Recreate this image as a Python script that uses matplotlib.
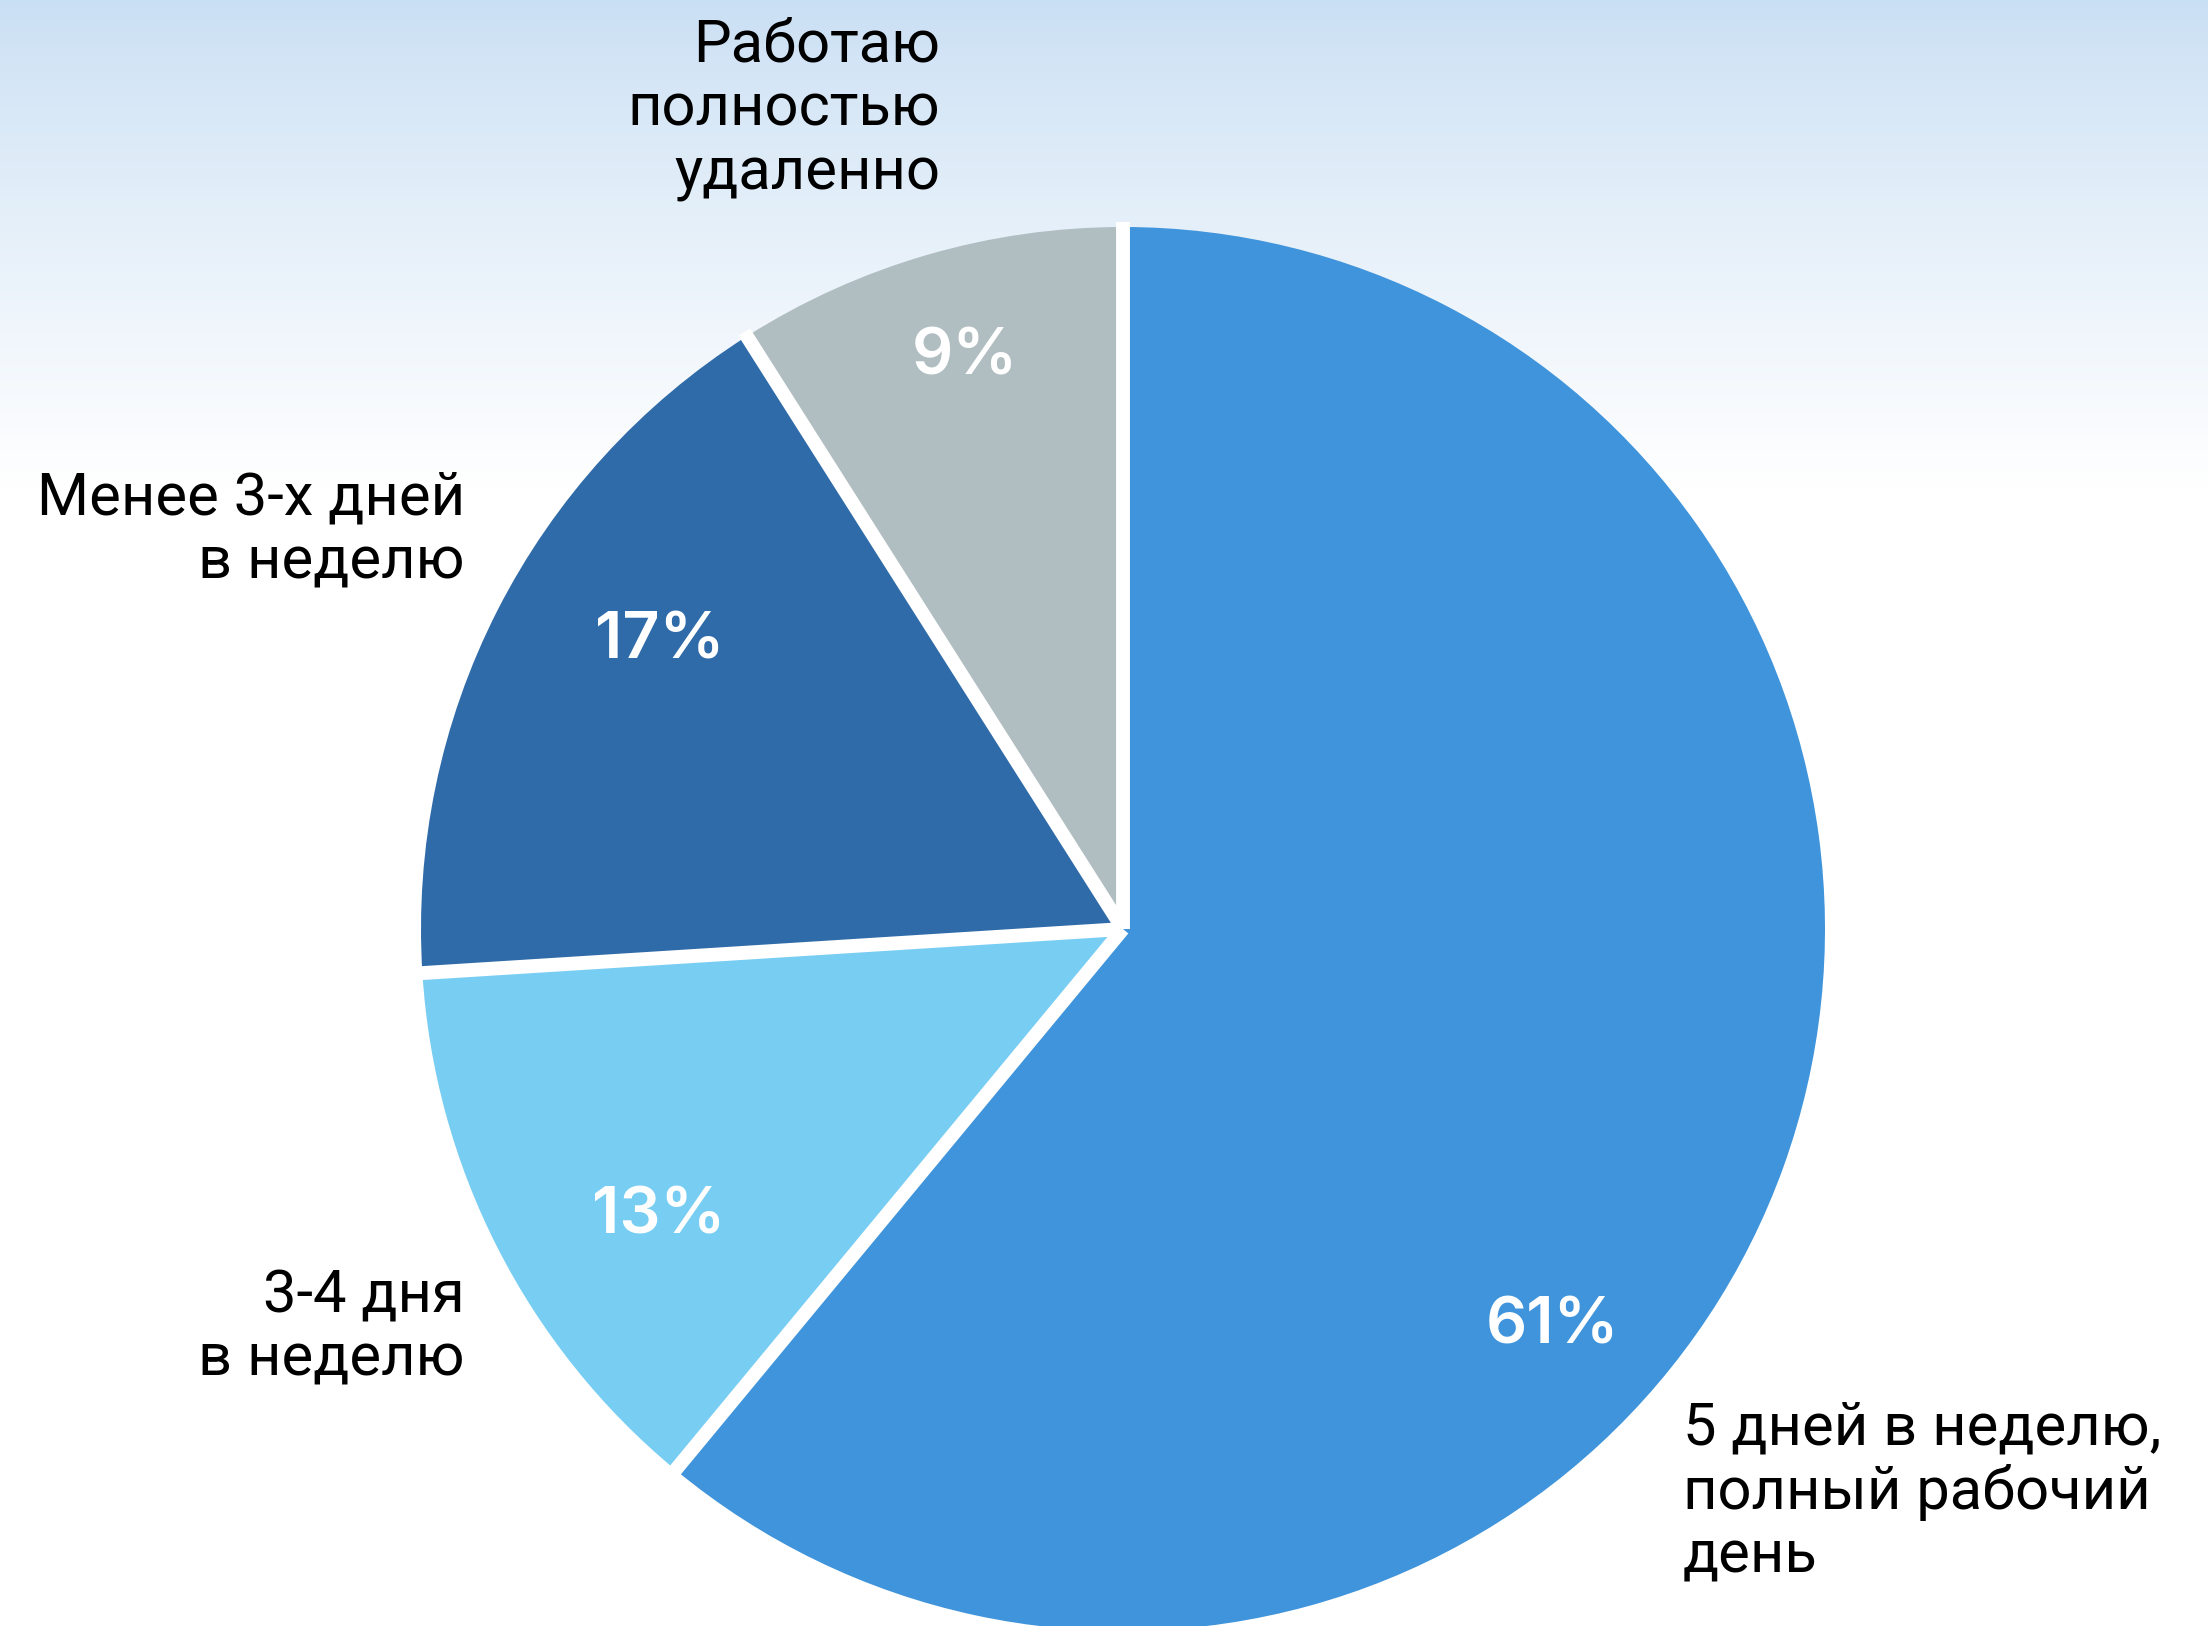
import numpy as np
import matplotlib
matplotlib.use("Agg")
import matplotlib.pyplot as plt

# данные
categories = ["5 дней в неделю,\nполный рабочий\nдень",
              "3-4 дня\nв неделю",
              "Менее 3-х дней\nв неделю",
              "Работаю\nполностью\nудаленно"]
shares = [61, 13, 17, 9]
colors = ["#3F94DB", "#78CDF3", "#2F6BA8", "#B0BDC1"]

W, H = 2208, 1626
fig = plt.figure(figsize=(W / 100, H / 100), dpi=100)
ax = fig.add_axes([0, 0, 1, 1])

# фон - градиент сверху вниз
grad = np.linspace(0, 1, 400)[:, None]
top = np.array([0.79, 0.875, 0.955])
a = np.clip(grad / 0.30, 0, 1) ** 0.85
img = top[None, None, :] * (1 - a[..., None]) + np.ones(3)[None, None, :] * a[..., None]
img = np.repeat(img, 2, axis=1)
ax.imshow(img, extent=[0, W, 0, H], origin="upper", aspect="auto", zorder=0)

cx, cy, R = 1123, 697, 702
wedges, _ = ax.pie(shares, colors=colors, startangle=90, counterclock=False,
                   center=(cx, cy), radius=R, frame=True,
                   wedgeprops=dict(linewidth=0, zorder=2))

# белые разделители только по радиусам
for w in wedges:
    t = np.deg2rad(w.theta1)
    ax.plot([cx, cx + (R + 5) * np.cos(t)], [cy, cy + (R + 5) * np.sin(t)],
            color="white", lw=10, solid_capstyle="butt", zorder=2.5)

ax.set_xlim(0, W)
ax.set_ylim(0, H)
ax.axis("off")

# подписи процентов: (угол, доля радиуса)
pct_pos = [(-42.5, 0.83), (-148.6, 0.775), (147.8, 0.78), (105.4, 0.85)]
for v, (ang, rr) in zip(shares, pct_pos):
    t = np.deg2rad(ang)
    ax.text(cx + rr * R * np.cos(t), cy + rr * R * np.sin(t) - 4, f"{v}%",
            color="white", fontsize=46.5, fontfamily="Inter", fontweight="semibold",
            ha="center", va="center", zorder=3)

# подписи категорий (x, y от верхнего края)
lab_pos = [(1683, 1400, "left"), (465, 1267, "right"), (465, 470, "right"), (940, 17, "right")]
for txt, (x, yy, ha) in zip(categories, lab_pos):
    ax.text(x, H - yy, txt, fontsize=43, fontfamily="Roboto", color="black",
            ha=ha, va="top", linespacing=1.15, zorder=3)

fig.savefig("out.png", dpi=100)
